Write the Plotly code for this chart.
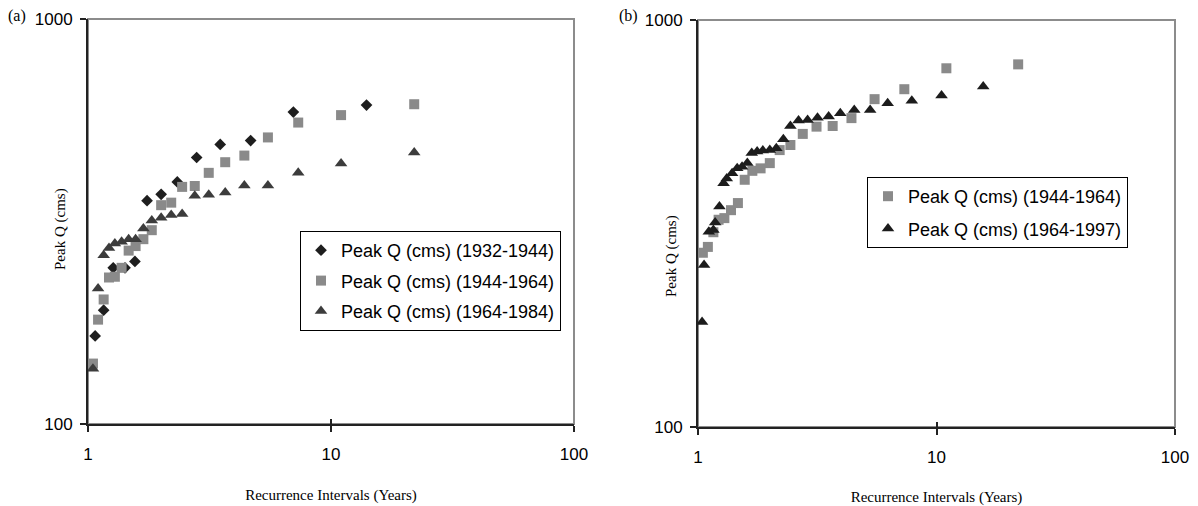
import plotly.graph_objects as go

# ---------------- Panel (a) data ----------------
a_x_1932 = [1.07, 1.16, 1.27, 1.42, 1.56, 1.75, 2.0, 2.33, 2.8, 3.5, 4.67, 7.0, 14.0]
a_y_1932 = [165, 191, 243, 243, 252, 356, 369, 396, 455, 490, 501, 589, 613]

a_x_1944 = [1.048, 1.1, 1.16, 1.22, 1.29, 1.375, 1.47, 1.57, 1.69, 1.83, 2.0,
            2.2, 2.44, 2.75, 3.14, 3.67, 4.4, 5.5, 7.33, 11.0, 22.0]
a_y_1944 = [141, 181, 203, 230, 231, 243, 268, 275, 286, 301, 347,
            352, 385, 387, 417, 443, 460, 510, 555, 579, 616]

a_x_1964 = [1.048, 1.1, 1.16, 1.22, 1.29, 1.375, 1.47, 1.57, 1.69, 1.83, 2.0,
            2.2, 2.44, 2.75, 3.14, 3.67, 4.4, 5.5, 7.33, 11.0, 22.0]
a_y_1964 = [137, 216, 261, 272, 279, 282, 286, 286, 304, 318, 323,
            328, 330, 366, 368, 373, 388, 388, 417, 440, 468]

# ---------------- Panel (b) data ----------------
b_x_1944 = [1.048, 1.1, 1.16, 1.22, 1.29, 1.375, 1.47, 1.57, 1.69, 1.83, 2.0,
            2.2, 2.44, 2.75, 3.14, 3.67, 4.4, 5.5, 7.33, 11.0, 22.0]
b_y_1944 = [268, 277, 301, 323, 326, 341, 355, 405, 426, 432, 445,
            479, 493, 525, 547, 549, 574, 639, 676, 761, 778]

b_x_1964 = [1.04, 1.06, 1.11, 1.16, 1.18, 1.23, 1.28, 1.32, 1.39, 1.46,
            1.53, 1.61, 1.68, 1.77, 1.87, 2.0, 2.13, 2.28, 2.44, 2.64,
            2.88, 3.17, 3.53, 3.95, 4.52, 5.27, 6.24, 7.88, 10.5, 15.7]
b_y_1964 = [181, 250, 302, 305, 318, 348, 397, 408, 420, 432,
            436, 445, 471, 475, 478, 479, 484, 509, 549, 566,
            568, 575, 579, 590, 601, 601, 624, 633, 652, 686]

x_tick_vals = [1, 10, 100]
x_tick_text = ["1", "10", "100"]
y_tick_vals = [100, 1000]
y_tick_text = ["100", "1000"]

W, H = 1198, 506
# plot-area pixel boxes
A = dict(x0=88, x1=574, y0=19, y1=424)
B = dict(x0=698, x1=1175, y0=20, y1=427)

def dom_x(b):
    return [b["x0"] / W, b["x1"] / W]

def dom_y(b):
    return [1 - b["y1"] / H, 1 - b["y0"] / H]

fig = go.Figure()

c_dia = "#1e1e1e"
c_sq = "#8a8a8a"
c_tri_a = "#3c3c3c"
c_tri_b = "#1c1c1c"

fig.add_trace(go.Scatter(x=a_x_1932, y=a_y_1932, mode="markers",
                         name="Peak Q (cms) (1932-1944)", legendgroup="a1",
                         marker=dict(symbol="diamond", size=9, color=c_dia),
                         xaxis="x", yaxis="y", legend="legend"))
fig.add_trace(go.Scatter(x=a_x_1944, y=a_y_1944, mode="markers",
                         name="Peak Q (cms) (1944-1964)", legendgroup="a2",
                         marker=dict(symbol="square", size=10, color=c_sq),
                         xaxis="x", yaxis="y", legend="legend"))
fig.add_trace(go.Scatter(x=a_x_1964, y=a_y_1964, mode="markers",
                         name="Peak Q (cms) (1964-1984)", legendgroup="a3",
                         marker=dict(symbol="triangle-up", size=11, color=c_tri_a),
                         xaxis="x", yaxis="y", legend="legend"))

fig.add_trace(go.Scatter(x=b_x_1944, y=b_y_1944, mode="markers",
                         name="Peak Q (cms) (1944-1964)", legendgroup="b1",
                         marker=dict(symbol="square", size=10, color=c_sq),
                         xaxis="x2", yaxis="y2", legend="legend2"))
fig.add_trace(go.Scatter(x=b_x_1964, y=b_y_1964, mode="markers",
                         name="Peak Q (cms) (1964-1997)", legendgroup="b2",
                         marker=dict(symbol="triangle-up", size=11, color=c_tri_b),
                         xaxis="x2", yaxis="y2", legend="legend2"))

tick_font = dict(family="Liberation Sans, Arial, sans-serif", size=17, color="#000")
title_font = dict(family="Liberation Serif, Times New Roman, serif", size=15, color="#000")

def xaxis(b, anchor):
    return dict(type="log", range=[0, 2], domain=dom_x(b), anchor=anchor,
                tickvals=x_tick_vals, ticktext=x_tick_text, tickfont=tick_font,
                showgrid=False, zeroline=False, showline=True, linecolor="#222",
                linewidth=2, ticks="outside", ticklen=6, tickwidth=1.5,
                tickcolor="#222", ticklabelstandoff=8, automargin=True,
                title=dict(text="Recurrence Intervals (Years)", font=title_font,
                           standoff=26))

def yaxis(b, anchor):
    return dict(type="log", range=[2, 3], domain=dom_y(b), anchor=anchor,
                tickvals=y_tick_vals, ticktext=y_tick_text, tickfont=tick_font,
                showgrid=False, zeroline=False, showline=True, linecolor="#222",
                linewidth=2, ticks="outside", ticklen=6, tickwidth=1.5,
                tickcolor="#222", ticklabelstandoff=4, automargin=False)

def x_inner(b, anchor, over):
    return dict(type="log", range=[0, 2], domain=dom_x(b), anchor=anchor,
                overlaying=over, tickvals=x_tick_vals, showticklabels=False,
                showgrid=False, zeroline=False, showline=False,
                ticks="inside", ticklen=5, tickwidth=1.5, tickcolor="#222",
                automargin=False)

def y_inner(b, anchor, over):
    return dict(type="log", range=[2, 3], domain=dom_y(b), anchor=anchor,
                overlaying=over, tickvals=y_tick_vals, showticklabels=False,
                showgrid=False, zeroline=False, showline=False,
                ticks="inside", ticklen=5, tickwidth=1.5, tickcolor="#222",
                automargin=False)

shapes = []
for b in (A, B):
    shapes.append(dict(type="rect", xref="paper", yref="paper",
                       x0=b["x0"] / W, x1=b["x1"] / W,
                       y0=1 - b["y1"] / H, y1=1 - b["y0"] / H,
                       line=dict(color="#8c8c8c", width=2), layer="below"))

legend_font = dict(family="Liberation Sans, Arial, sans-serif", size=18, color="#000")
serif16 = dict(family="Liberation Serif, Times New Roman, serif", size=16, color="#000")

fig.update_layout(
    width=W, height=H,
    margin=dict(l=0, r=0, t=0, b=0, autoexpand=False),
    paper_bgcolor="white", plot_bgcolor="white",
    xaxis=xaxis(A, "y"), yaxis=yaxis(A, "x"),
    xaxis2=xaxis(B, "y2"), yaxis2=yaxis(B, "x2"),
    xaxis3=x_inner(A, "y", "x"), yaxis3=y_inner(A, "x", "y"),
    xaxis4=x_inner(B, "y2", "x2"), yaxis4=y_inner(B, "x2", "y2"),
    shapes=shapes,
    showlegend=True,
    legend=dict(x=300 / W, y=1 - 231 / H, xanchor="left", yanchor="top",
                bordercolor="#000", borderwidth=1, bgcolor="white",
                font=legend_font, itemwidth=30, tracegroupgap=4),
    legend2=dict(x=867 / W, y=1 - 177 / H, xanchor="left", yanchor="top",
                 bordercolor="#000", borderwidth=1, bgcolor="white",
                 font=legend_font, itemwidth=30, tracegroupgap=6),
    annotations=[
        dict(text="(a)", x=6 / W, y=1 - 16 / H, xref="paper", yref="paper",
             xanchor="left", yanchor="middle", showarrow=False, font=serif16),
        dict(text="(b)", x=617 / W, y=1 - 16 / H, xref="paper", yref="paper",
             xanchor="left", yanchor="middle", showarrow=False, font=serif16),
        dict(text="Peak Q (cms)", x=60 / W, y=1 - 229 / H, xref="paper", yref="paper",
             xanchor="center", yanchor="middle", showarrow=False, textangle=-90,
             font=title_font),
        dict(text="Peak Q (cms)", x=672 / W, y=1 - 256 / H, xref="paper", yref="paper",
             xanchor="center", yanchor="middle", showarrow=False, textangle=-90,
             font=title_font),
    ],
)

# anchor invisible traces to the overlay axes so their ticks render
fig.add_trace(go.Scatter(x=[None], y=[None], xaxis="x3", yaxis="y3",
                         showlegend=False, hoverinfo="skip"))
fig.add_trace(go.Scatter(x=[None], y=[None], xaxis="x4", yaxis="y4",
                         showlegend=False, hoverinfo="skip"))

fig.write_html("out.html", config={"displayModeBar": False},
               post_script="document.body.style.margin='0px';")
